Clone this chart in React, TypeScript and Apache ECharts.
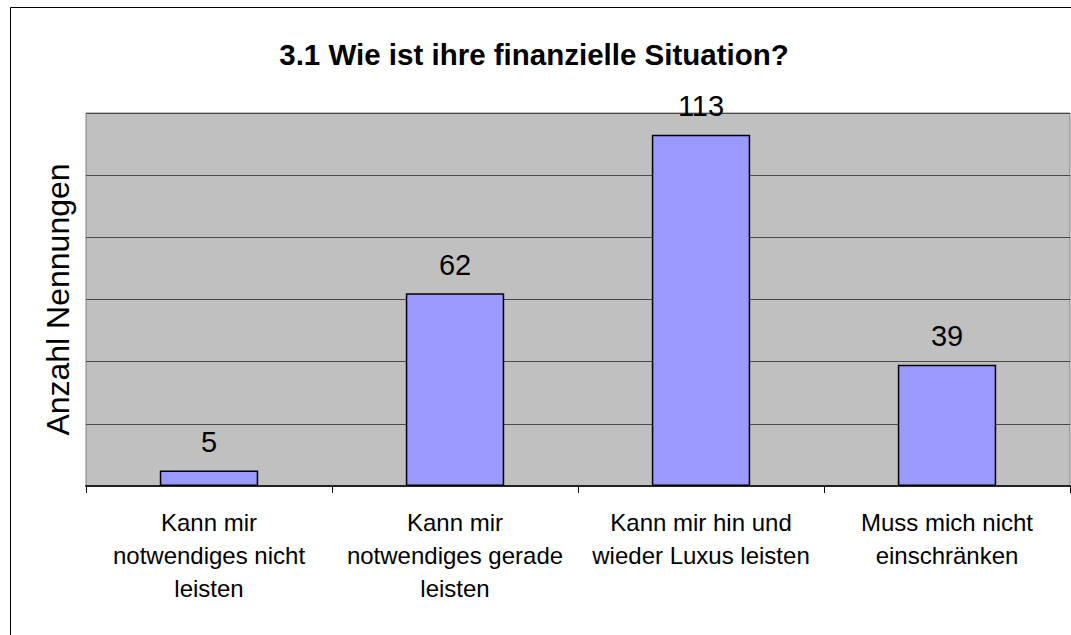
import React, { useEffect, useRef } from "react";
import * as echarts from "echarts";

const chartTitle = "3.1 Wie ist ihre finanzielle Situation?";
const yAxisName = "Anzahl Nennungen";
const categories = [
  "Kann mir\nnotwendiges nicht\nleisten",
  "Kann mir\nnotwendiges gerade\nleisten",
  "Kann mir hin und\nwieder Luxus leisten",
  "Muss mich nicht\neinschränken",
];
const values = [5, 62, 113, 39];
const yMin = 0;
const yMax = 120;
const yInterval = 20;

const FONT = 'Arial, "Liberation Sans", sans-serif';

export default function App() {
  const ref = useRef<HTMLDivElement>(null);
  useEffect(() => {
    if (!ref.current) return;
    const chart = echarts.init(ref.current, undefined, { renderer: "svg" });
    chart.setOption({
      animation: false,
      backgroundColor: "#ffffff",
      title: {
        text: chartTitle,
        left: 529,
        top: 34,
        textAlign: "center",
        textStyle: { fontFamily: FONT, fontSize: 29.5, fontWeight: "bold", color: "#000" },
      },
      graphic: [
        {
          type: "rect",
          shape: { x: 10.5, y: 7.5, width: 1200, height: 800 },
          style: { fill: "none", stroke: "#000", lineWidth: 1 },
          silent: true,
          z: 100,
        },
      ],
      grid: {
        left: 86,
        top: 113,
        right: 1,
        bottom: 149,
        show: true,
        backgroundColor: "#C0C0C0",
        borderColor: "#808080",
        borderWidth: 1,
      },
      xAxis: {
        type: "category",
        data: categories,
        boundaryGap: true,
        axisLine: { show: true, lineStyle: { color: "#222", width: 2 } },
        axisTick: { show: true, length: 7, alignWithLabel: false, lineStyle: { color: "#000", width: 1 } },
        axisLabel: {
          interval: 0,
          margin: 20,
          fontFamily: FONT,
          fontSize: 24,
          lineHeight: 33,
          color: "#000",
          align: "center",
        },
      },
      yAxis: {
        type: "value",
        min: yMin,
        max: yMax,
        interval: yInterval,
        name: yAxisName,
        nameLocation: "middle",
        nameGap: 12,
        nameTextStyle: { fontFamily: FONT, fontSize: 32, color: "#000" },
        axisLine: { show: false },
        axisTick: { show: false },
        axisLabel: { show: false },
        splitLine: { show: true, lineStyle: { color: "#4a4a4a", width: 1 } },
      },
      series: [
        {
          type: "bar",
          data: values,
          barWidth: "40%",
          itemStyle: { color: "#9999FF", borderColor: "#000", borderWidth: 1.5 },
          label: {
            show: true,
            position: "top",
            distance: 14,
            fontFamily: FONT,
            fontSize: 29,
            color: "#000",
          },
        },
      ],
    });
    return () => chart.dispose();
  }, []);
  return (
    <div
      ref={ref}
      style={{ position: "fixed", left: 0, top: 0, width: 1071, height: 635 }}
    />
  );
}
